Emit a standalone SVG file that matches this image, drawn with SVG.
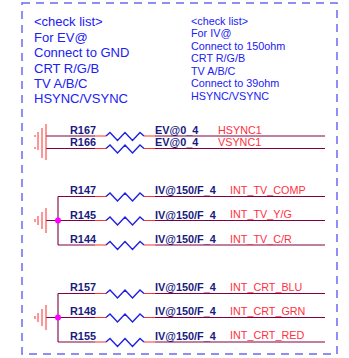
<svg xmlns="http://www.w3.org/2000/svg" width="349" height="358" viewBox="0 0 349 358">
<style>
text{font-family:"Liberation Sans",Arial,sans-serif}
.note{fill:#2020f5}
.n1{font-size:13px}
.n2{font-size:10.800px}
.ref,.val{font-size:10.900px;font-weight:bold;fill:#1a1a80}
.net{font-size:10.800px;fill:#ff3040}
.w{fill:none;stroke:#800040;stroke-width:1.100}
.r{fill:none;stroke:#ff3030;stroke-width:1.100}
.z{fill:none;stroke:#2020e0;stroke-width:1.400}
.g{fill:none;stroke:#ff4040;stroke-width:1.100}
</style>
<defs>
<g id="res"><path class="r" d="M95 0H106M144 0H155"/><path class="z" d="M106 0L110 -3.500L117.500 4.500L125 -3.500L132.500 4.500L140 -3.500L144 0"/></g>
</defs>
<rect x="22" y="3" width="315" height="351" fill="none" stroke="#6a6af5" stroke-width="1.500" stroke-dasharray="8 6"/>
<g id="notes">
<g class="note n1"><text x="34" y="26">&lt;check list&gt;</text><text x="34" y="42">For EV@</text><text x="34" y="57">Connect to GND</text><text x="34" y="73">CRT R/G/B</text><text x="34" y="88">TV A/B/C</text><text x="34" y="103">HSYNC/VSYNC</text></g>
<g class="note n2"><text x="191" y="25">&lt;check list&gt;</text><text x="191" y="37">For IV@</text><text x="191" y="50">Connect to 150ohm</text><text x="191" y="62">CRT R/G/B</text><text x="191" y="75">TV A/B/C</text><text x="191" y="87">Connect to 39ohm</text><text x="191" y="100">HSYNC/VSYNC</text></g>
</g>
<g id="connectors">
<path class="w" d="M46 136H95M155 136H325M46 148.500H95M155 148.500H325"/>
<path class="w" d="M58 196.500V245M58 196.500H95M155 196.500H325M46 220.500H95M155 220.500H325M58 245H95M155 245H325"/>
<path class="w" d="M58 293.500V342M58 293.500H95M155 293.500H325M46 317.500H95M155 317.500H325M58 342H95M155 342H325"/>
</g>
<g id="gnd1"><path class="g" d="M46 124V160M42 128V158M38 132V150M35 135V137M35 147V149"/></g>
<g id="gnd2"><path class="g" d="M46 208V233M42 212V229M38 216V225M35 219V222"/><circle cx="58" cy="220.500" r="3" fill="#ff00ff"/></g>
<g id="gnd3"><path class="g" d="M46 305V330M42 309V326M38 313V322M35 316V319"/><circle cx="58" cy="317.500" r="3" fill="#ff00ff"/></g>
<g id="R167"><use href="#res" y="136"/><text class="ref" x="70" y="134">R167</text><text class="val" x="155" y="134">EV@0_4</text><text class="net" x="218" y="134">HSYNC1</text></g>
<g id="R166"><use href="#res" y="148.500"/><text class="ref" x="70" y="146">R166</text><text class="val" x="155" y="146">EV@0_4</text><text class="net" x="218" y="146">VSYNC1</text></g>
<g id="R147"><use href="#res" y="196.500"/><text class="ref" x="70" y="194">R147</text><text class="val" x="155" y="194">IV@150/F_4</text><text class="net" x="230" y="194">INT_TV_COMP</text></g>
<g id="R145"><use href="#res" y="220.500"/><text class="ref" x="70" y="219">R145</text><text class="val" x="155" y="219">IV@150/F_4</text><text class="net" x="230" y="218">INT_TV_Y/G</text></g>
<g id="R144"><use href="#res" y="245"/><text class="ref" x="70" y="243">R144</text><text class="val" x="155" y="243">IV@150/F_4</text><text class="net" x="230" y="243">INT_TV_C/R</text></g>
<g id="R157"><use href="#res" y="293.500"/><text class="ref" x="70" y="291">R157</text><text class="val" x="155" y="291">IV@150/F_4</text><text class="net" x="230" y="291">INT_CRT_BLU</text></g>
<g id="R148"><use href="#res" y="317.500"/><text class="ref" x="70" y="315">R148</text><text class="val" x="155" y="315">IV@150/F_4</text><text class="net" x="230" y="315">INT_CRT_GRN</text></g>
<g id="R155"><use href="#res" y="342"/><text class="ref" x="70" y="340">R155</text><text class="val" x="155" y="340">IV@150/F_4</text><text class="net" x="230" y="339">INT_CRT_RED</text></g>
</svg>
